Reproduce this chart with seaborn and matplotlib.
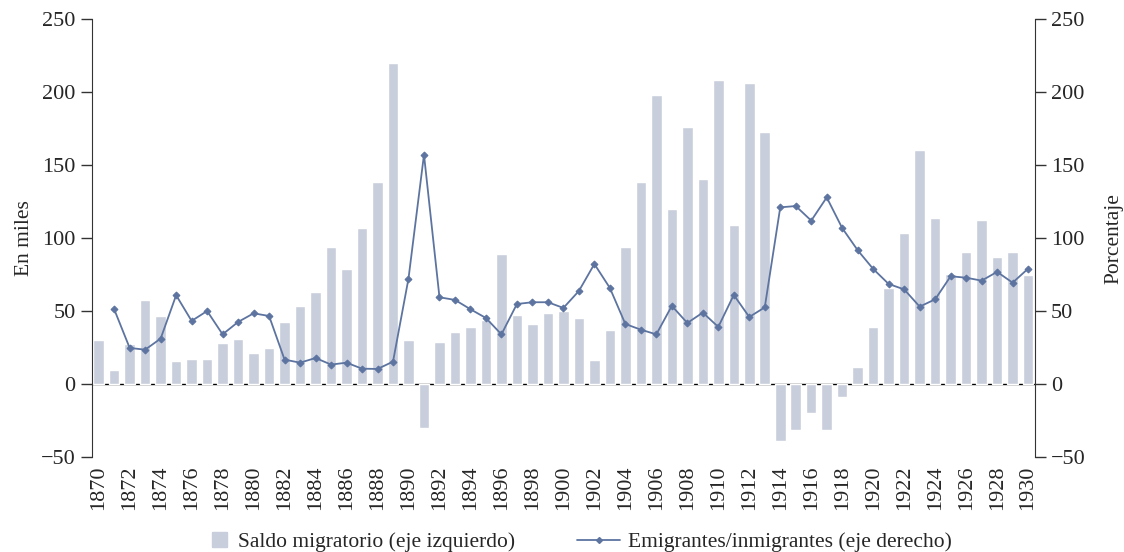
import matplotlib
matplotlib.use("Agg")
import matplotlib.pyplot as plt
import matplotlib.patches as mpatches
from matplotlib.lines import Line2D
import pandas as pd
import numpy as np
import seaborn as sns

# datos
years = list(range(1870, 1931))
saldo = [30, 10, 27.6, 57.8, 46.8, 16, 17.4, 17.4, 28.3, 31,
         21.5, 24.9, 42.7, 53.7, 63.2, 94, 79, 107, 138.6, 220,
         30.4, -29.7, 29, 35.8, 39.3, 44, 89.3, 47.5, 41.3, 48.9,
         50.2, 45.4, 16.7, 37.2, 94, 138.6, 198.2, 120, 176.3, 140.6,
         208.4, 109.1, 206.4, 172.8, -38.6, -31, -20, -31, -8.4, 11.9,
         39.3, 66, 103.7, 160.5, 114, 75.6, 90.6, 112.6, 87.2, 90.6,
         74.9]
line_years = list(range(1871, 1931))
emig_inmig = [51.4, 24.9, 23.7, 31.3, 61, 43.4, 50.2, 34.2, 42.7,
              48.6, 46.8, 16.9, 14.8, 18, 13.5, 14.8, 10.7, 10.5, 15.5,
              72.4, 157.3, 59.6, 57.8, 51.4, 45.4, 34.2, 55, 56.2, 56.2,
              52.3, 63.9, 82.4, 66, 41.3, 37.4, 34.2, 53.7, 42, 49.1,
              39.3, 61.2, 46.1, 52.7, 121.2, 122.1, 112.1, 128, 107, 91.8,
              79, 68.7, 65, 53.2, 58.2, 74, 73, 71, 77, 69.6,
              79.2]
yticks = [-50, 0, 50, 100, 150, 200, 250]

bar_color = "#c8cedc"
line_color = "#5d74a0"

sns.set_style("white")
plt.rcParams['font.family'] = ['Liberation Serif', 'DejaVu Serif']

df_bar = pd.DataFrame({"year": years, "saldo": saldo})
df_line = pd.DataFrame({"year": line_years, "ratio": emig_inmig})

fig = plt.figure(figsize=(11.24, 5.52), dpi=100)
ax = fig.add_axes([0.0816, 0.1716, 0.9206 - 0.0816, 0.965 - 0.1716])

ax.axhline(0, color="black", lw=1.0, zorder=0)
sns.barplot(data=df_bar, x="year", y="saldo", native_scale=True, width=0.68,
            color=bar_color, saturation=1, ax=ax, zorder=2)

ax2 = ax.twinx()
sns.lineplot(data=df_line, x="year", y="ratio", ax=ax2, color=line_color,
             lw=1.3, marker="D", markersize=3.5, markeredgecolor=line_color)

for a in (ax, ax2):
    a.set_ylim(-50, 250)
    a.set_yticks(yticks)
    a.set_yticklabels([str(t).replace("-", "\u2212") for t in yticks])
    a.set_xlim(1870 - 0.45, 1930 + 0.43)
    a.tick_params(axis="y", labelsize=16, length=8, width=1, direction="out", color="#333333")
    for s in a.spines.values():
        s.set_visible(False)

ax.spines["left"].set_visible(True)
ax.spines["left"].set_color("#333333")
ax2.spines["right"].set_visible(True)
ax2.spines["right"].set_color("#333333")
ax.tick_params(axis="y", left=True, right=False)
ax2.tick_params(axis="y", right=True, left=False)

ax.set_xticks(years[::2])
ax.set_xticklabels([str(y) for y in years[::2]], rotation=90, fontsize=16)
ax.tick_params(axis="x", length=0, pad=6)
ax.set_xlabel("")
ax.set_ylabel("En miles", fontsize=15.5, labelpad=5)
ax2.set_ylabel("Porcentaje", fontsize=15.5, labelpad=14)

# leyenda: dos bloques, cuadrado para barras y linea con rombo
leg1 = fig.legend(handles=[mpatches.Patch(color=bar_color,
                                          label="Saldo migratorio (eje izquierdo)")],
                  loc="center left", bbox_to_anchor=(212 / 1124, 0.018),
                  frameon=False, fontsize=15.5, borderpad=0, borderaxespad=0,
                  handlelength=0.7, handleheight=0.7, handletextpad=0.5)
leg2 = fig.legend(handles=[Line2D([0], [0], color=line_color, lw=1.3, marker="D",
                                  markersize=3, label="Emigrantes/inmigrantes (eje derecho)")],
                  loc="center left", bbox_to_anchor=(577 / 1124, 0.018),
                  frameon=False, fontsize=15.5, borderpad=0, borderaxespad=0,
                  handlelength=2.0, handletextpad=0.35)

fig.savefig("out.png", dpi=100)
